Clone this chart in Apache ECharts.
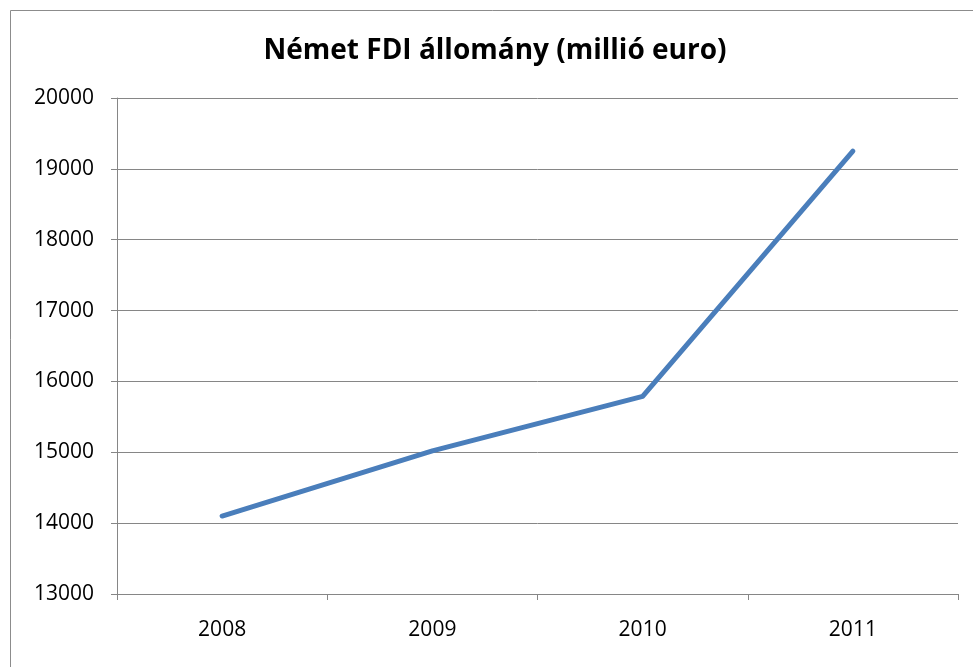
<!DOCTYPE html>
<html>
<head>
<meta charset="utf-8">
<script src="https://cdn.jsdelivr.net/npm/echarts@6/dist/echarts.min.js"></script>
<style>html,body{margin:0;padding:0;background:#fff}#c{width:973px;height:667px}</style>
</head>
<body>
<div id="c"></div>
<script>
const categories = ['2008', '2009', '2010', '2011'];
const values = [14100, 15020, 15790, 19250];
const yMin = 13000, yMax = 20000, yStep = 1000;

const chart = echarts.init(document.getElementById('c'));
chart.setOption({
  animation: false,
  backgroundColor: '#fff',
  title: {
    text: 'Német FDI állomány (millió euro)',
    left: 490, top: 32, textAlign: 'center',
    textStyle: { fontFamily: 'Open Sans', fontWeight: 'bold', fontSize: 28, color: '#000' }
  },
  graphic: [{
    type: 'rect', shape: { x: 10.5, y: 10.5, width: 1000, height: 700 },
    style: { fill: 'none', stroke: '#8c8c8c', lineWidth: 1 }, silent: true
  }],
  grid: { left: 117, right: 15, top: 98, bottom: 73 },
  xAxis: {
    type: 'category', data: categories, boundaryGap: true,
    axisLine: { lineStyle: { color: '#868686', width: 1 } },
    axisTick: { show: true, length: 6, lineStyle: { color: '#868686' } },
    axisLabel: { fontFamily: 'Open Sans', fontSize: 21, color: '#000', margin: 26 }
  },
  yAxis: {
    type: 'value', min: yMin, max: yMax, interval: yStep,
    axisLine: { show: true, lineStyle: { color: '#868686', width: 1 } },
    axisTick: { show: true, length: 6, lineStyle: { color: '#868686' } },
    splitLine: { lineStyle: { color: '#868686', width: 1 } },
    axisLabel: { fontFamily: 'Open Sans', fontSize: 21, color: '#000', margin: 23, formatter: v => String(v) }
  },
  series: [{
    type: 'line', data: values, symbol: 'none',
    lineStyle: { color: '#4a7ebb', width: 5, cap: 'round', join: 'round' }
  }]
});
</script>
</body>
</html>
